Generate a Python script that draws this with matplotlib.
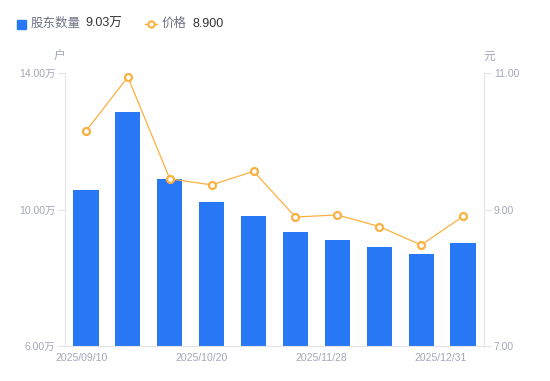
import matplotlib
matplotlib.use('Agg')
import matplotlib.pyplot as plt
import numpy as np

plt.rcParams['font.family'] = ['Liberation Sans', 'Noto Sans CJK SC', 'DejaVu Sans']

# data
dates = ['2025/09/10', '2025/09/19', '2025/09/30', '2025/10/20', '2025/10/31',
         '2025/11/14', '2025/11/28', '2025/12/10', '2025/12/19', '2025/12/31']
holders = [10.57, 12.87, 10.89, 10.22, 9.80, 9.33, 9.11, 8.90, 8.69, 9.03]  # 万户
price = [10.15, 10.94, 9.45, 9.36, 9.56, 8.89, 8.92, 8.75, 8.48, 8.90]      # 元
shown_labels = [0, 3, 6, 9]

blue = '#2878F5'
orange = '#FBB040'
axis_gray = '#E3E4E8'
tick_gray = '#A3A6B8'

fig = plt.figure(figsize=(5.5, 3.81), dpi=100)
ax1 = fig.add_axes([65 / 550, 1 - 346 / 381, 419 / 550, 273 / 381])
ax2 = ax1.twinx()

x = np.arange(len(dates))
ax1.bar(x, holders, width=0.6, color=blue, zorder=2)
ax2.plot(x, price, color=orange, lw=0.9, marker='o', ms=5, mfc='white',
         mec=orange, mew=1.6, zorder=3)

ax1.set_xlim(-0.5, len(dates) - 0.5)
ax1.set_ylim(6, 14)
ax2.set_ylim(7, 11)
ax1.set_yticks([6, 10, 14])
ax1.set_yticklabels(['%.2f万' % v for v in [6, 10, 14]])
ax2.set_yticks([7, 9, 11])
ax2.set_yticklabels(['%.2f' % v for v in [7, 9, 11]])

# category labels sit a little left of the bars, as in the source chart
label_pos = [-0.106 + 0.952 * i for i in shown_labels]
ax1.set_xticks(label_pos)
ax1.set_xticklabels([dates[i] for i in shown_labels])
ax1.tick_params(axis='x', length=0, pad=5, labelsize=7.5, colors=tick_gray)

for ax in (ax1, ax2):
    for s in ax.spines.values():
        s.set_visible(False)
    ax.tick_params(axis='y', length=5, width=0.8, color=axis_gray,
                   labelsize=7.5, labelcolor=tick_gray, pad=2)
ax1.spines['left'].set_visible(True)
ax1.spines['left'].set_color(axis_gray)
ax2.spines['right'].set_visible(True)
ax2.spines['right'].set_color(axis_gray)
ax1.spines['bottom'].set_visible(True)
ax1.spines['bottom'].set_color(axis_gray)
ax1.spines['bottom'].set_zorder(3)

# unit labels
fig.text(59 / 550, 1 - 57 / 381, '户', ha='center', va='center',
         fontsize=8.5, color=tick_gray)
fig.text(489 / 550, 1 - 57 / 381, '元', ha='center', va='center',
         fontsize=8.5, color=tick_gray)

# legend drawn by hand
ly = 1 - 24 / 381
fig.patches.append(plt.Rectangle((17 / 550, 1 - 29 / 381), 9 / 550, 9 / 381,
                                 transform=fig.transFigure, color=blue))
fig.text(31 / 550, ly, '股东数量', ha='left', va='center', fontsize=9, color='#6E7282')
fig.text(85 / 550, ly, '%.2f万' % holders[-1], ha='left', va='center',
         fontsize=9, color='#333333')
fig.lines.append(plt.Line2D([145 / 550, 151 / 550, 157 / 550], [ly, ly, ly],
                            transform=fig.transFigure, color=orange, lw=1,
                            marker='o', ms=4.5, mfc='white', mec=orange, mew=1.5,
                            markevery=[1]))
fig.text(162 / 550, ly, '价格', ha='left', va='center', fontsize=9, color='#6E7282')
fig.text(192 / 550, ly, '%.3f' % price[-1], ha='left', va='center',
         fontsize=9, color='#333333')

fig.savefig('out.png', dpi=100)
